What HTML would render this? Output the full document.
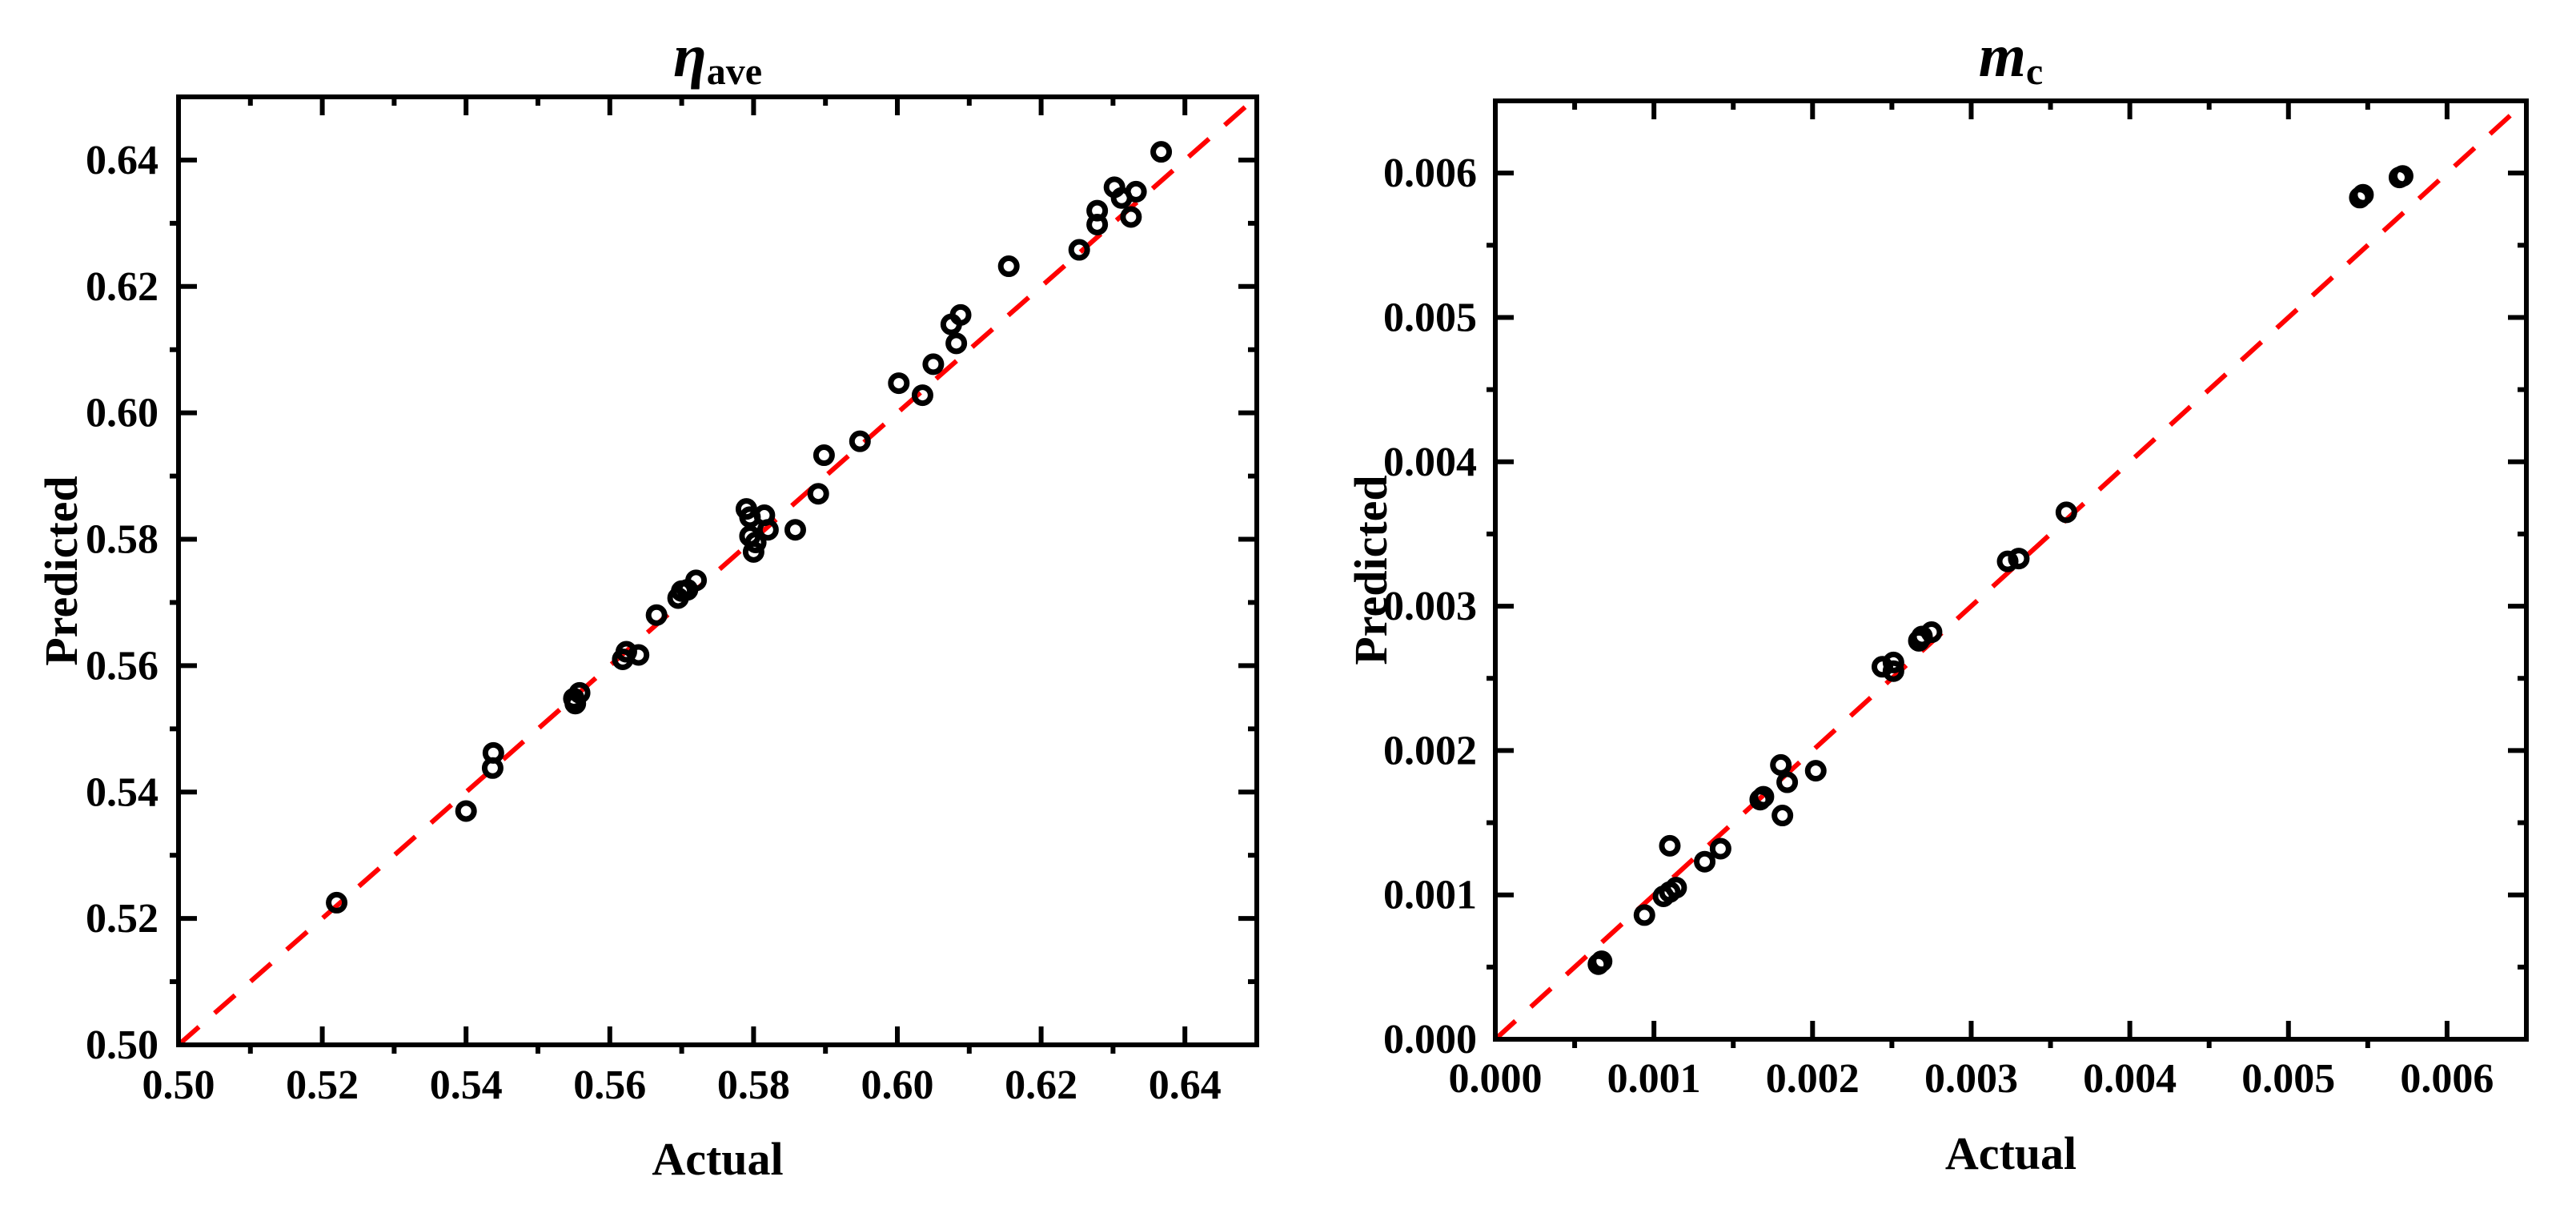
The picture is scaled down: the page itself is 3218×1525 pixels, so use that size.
<!DOCTYPE html>
<html><head><meta charset="utf-8"><style>
html,body{margin:0;padding:0;background:#fff;}
svg{display:block;}
text{font-family:"Liberation Serif",serif;font-weight:bold;fill:#000;}
</style></head><body>
<svg id="fig" width="3218" height="1525" viewBox="0 0 3218 1525" xmlns="http://www.w3.org/2000/svg"></svg>
<script>
// ---- Chart 1 data (eta_ave) ----
const etaActual = [0.522,0.540,0.5438,0.5437,0.555,0.5552,0.5558,0.5618,0.5623,0.564,0.5665,0.5695,0.570,0.5708,0.572,0.5790,0.5795,0.5795,0.5800,0.5803,0.5815,0.5820,0.5858,0.5890,0.5898,0.5948,0.6002,0.6035,0.6050,0.6075,0.6082,0.6088,0.6155,0.6253,0.6278,0.6278,0.6302,0.6312,0.6325,0.6332,0.6367];
const etaPred = [0.5225,0.537,0.5462,0.5438,0.5548,0.554,0.5557,0.561,0.5622,0.5617,0.568,0.5707,0.5718,0.572,0.5735,0.5848,0.5835,0.5805,0.5780,0.5795,0.5838,0.5815,0.5815,0.5872,0.5933,0.5955,0.6047,0.6028,0.6077,0.614,0.611,0.6155,0.6232,0.6258,0.632,0.6298,0.6357,0.634,0.631,0.635,0.6413];
const etaTicks = ["0.50","0.52","0.54","0.56","0.58","0.60","0.62","0.64"];
// ---- Chart 2 data (m_c) ----
const mcActual = [0.00065,0.00067,0.00094,0.00106,0.0011,0.00114,0.0011,0.00132,0.00142,0.00167,0.00169,0.0018,0.00181,0.00184,0.00202,0.00244,0.00251,0.00251,0.00267,0.00269,0.00275,0.00323,0.0033,0.0036,0.00545,0.00547,0.0057,0.00572];
const mcPred = [0.00052,0.00054,0.00086,0.00099,0.00102,0.00105,0.00134,0.00123,0.00132,0.00166,0.00168,0.0019,0.00155,0.00178,0.00186,0.00258,0.00261,0.00255,0.00276,0.00279,0.00282,0.00331,0.00333,0.00365,0.00583,0.00585,0.00597,0.00598];
const mcTicks = ["0.000","0.001","0.002","0.003","0.004","0.005","0.006"];

const NS="http://www.w3.org/2000/svg";
const svg=document.getElementById('fig');
function mk(tag,attrs,parent){const e=document.createElementNS(NS,tag);for(const k in attrs)e.setAttribute(k,attrs[k]);(parent||svg).appendChild(e);return e;}

function chart(o){
  const g=mk('g',{});
  
  
  const sx=v=>o.L+(v-o.min)/(o.max-o.min)*(o.R-o.L);
  const sy=v=>o.B-(v-o.min)/(o.max-o.min)*(o.B-o.T);
  const d=mk('line',{x1:sx(o.min),y1:sy(o.min),x2:sx(o.max),y2:sy(o.max),stroke:'#f00','stroke-width':6,'stroke-dasharray':'34 26'},g);
  
  
  for(let i=0;i<o.ticks.length;i++){
    const v=o.min+i*o.step;
    const X=sx(v),Y=sy(v);
    mk('line',{x1:X,y1:o.B,x2:X,y2:o.B-23,stroke:'#000','stroke-width':6},g);
    mk('line',{x1:X,y1:o.T,x2:X,y2:o.T+23,stroke:'#000','stroke-width':6},g);
    mk('line',{x1:o.L,y1:Y,x2:o.L+23,y2:Y,stroke:'#000','stroke-width':6},g);
    mk('line',{x1:o.R,y1:Y,x2:o.R-23,y2:Y,stroke:'#000','stroke-width':6},g);
    const xl=mk('text',{x:X,y:o.xlabY,'text-anchor':'middle','font-size':52},g);
    xl.textContent=o.ticks[i];
    
    
    const yl=mk('text',{x:o.ylabX,y:Y+17,'text-anchor':'end','font-size':52},g);
    yl.textContent=o.ticks[i];
    
    
  }
  for(let v=o.min+o.step/2;v<o.max;v+=o.step){
    const X=sx(v),Y=sy(v);
    mk('line',{x1:X,y1:o.B,x2:X,y2:o.B+11,stroke:'#000','stroke-width':6},g);
    mk('line',{x1:X,y1:o.T,x2:X,y2:o.T+11,stroke:'#000','stroke-width':6},g);
    mk('line',{x1:o.L,y1:Y,x2:o.L-11,y2:Y,stroke:'#000','stroke-width':6},g);
    mk('line',{x1:o.R,y1:Y,x2:o.R-11,y2:Y,stroke:'#000','stroke-width':6},g);
  }
  const fr=mk('rect',{x:o.L,y:o.T,width:o.R-o.L,height:o.B-o.T,fill:'none',stroke:'#000','stroke-width':6},g);
  
  
  for(let i=0;i<o.xs.length;i++){
    const c=mk('circle',{cx:sx(o.xs[i]),cy:sy(o.ys[i]),r:10,fill:'none',stroke:'#000','stroke-width':7},g);
    
    
  }
  const xt=mk('text',{x:(o.L+o.R)/2,y:o.B+162,'text-anchor':'middle','font-size':58},g);
  xt.textContent='Actual';
  
  
  const cy=(o.T+o.B)/2;
  const yt=mk('text',{x:o.ytX,y:cy,'text-anchor':'middle','font-size':58,transform:'rotate(-90 '+o.ytX+' '+cy+')'},g);
  yt.textContent='Predicted';
  
  
  const tt=mk('text',{x:(o.L+o.R)/2,y:o.titleY,'text-anchor':'middle','font-size':76},g);
  
  
  const t1=mk('tspan',{'font-style':'italic'},tt);t1.textContent=o.t1;
  const t2=mk('tspan',{'font-size':48,dy:10},tt);t2.textContent=o.t2;
}

chart({name:'eta-ave-chart',L:223,R:1570,T:121,B:1305,min:0.50,max:0.65,step:0.02,ticks:etaTicks,xs:etaActual,ys:etaPred,xlabY:1372,ylabX:198,ytX:96,titleY:95,t1:'η',t2:'ave'});
chart({name:'mc-chart',L:1868,R:3156,T:126,B:1298,min:0,max:0.0065,step:0.001,ticks:mcTicks,xs:mcActual,ys:mcPred,xlabY:1364,ylabX:1845,ytX:1732,titleY:95,t1:'m',t2:'c'});
</script>
</body></html>
